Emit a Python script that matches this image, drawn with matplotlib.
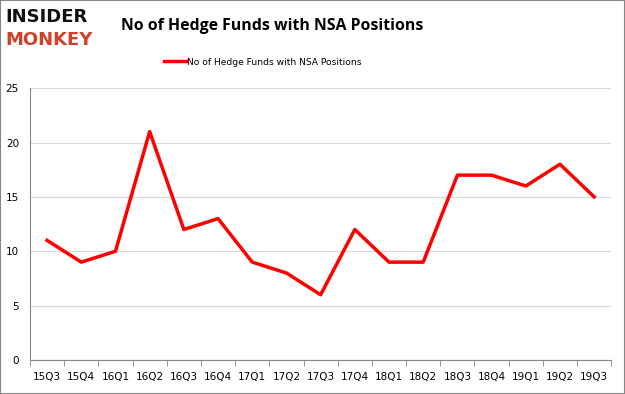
import matplotlib
matplotlib.use("Agg")
import numpy as np
from matplotlib import pyplot as plt

quarters = ['15Q3', '15Q4', '16Q1', '16Q2', '16Q3', '16Q4', '17Q1', '17Q2', '17Q3',
            '17Q4', '18Q1', '18Q2', '18Q3', '18Q4', '19Q1', '19Q2', '19Q3']
funds = [11, 9, 10, 21, 12, 13, 9, 8, 6, 12, 9, 9, 17, 17, 16, 18, 15]
series_name = 'No of Hedge Funds with NSA Positions'

fig = plt.figure(figsize=(6.25, 3.94), dpi=100)
ax = fig.add_axes([0.048, 0.0863, 0.930, 0.690])

x = np.arange(len(quarters))
ax.plot(x, funds, color='#ff0000', linewidth=2.5, label=series_name)

ax.set_xlim(-0.5, len(quarters) - 0.5)
ax.set_ylim(0, 25)
ax.set_yticks([0, 5, 10, 15, 20, 25])
ax.set_xticks(x)
ax.set_xticklabels(quarters, fontsize=7.5)
ax.set_xticks(np.arange(-0.5, len(quarters)), minor=True)
ax.tick_params(axis='x', which='major', length=0, pad=9)
ax.tick_params(axis='x', which='minor', length=4, color='#868686')
ax.tick_params(axis='y', length=0, labelsize=7.5, pad=8)
ax.grid(axis='y', color='#d9d9d9', linewidth=0.8)
ax.set_axisbelow(True)
for s in ['top', 'right']:
    ax.spines[s].set_visible(False)
ax.spines['left'].set_color('#868686')
ax.spines['bottom'].set_color('#868686')

ax.legend(loc='center', bbox_to_anchor=(0.40, 1.096), frameon=False, fontsize=6.6,
          handlelength=2.4, handletextpad=0.1)

fig.text(0.193, 0.935, 'No of Hedge Funds with NSA Positions', fontsize=11.4,
         fontweight='bold', va='center', family='Open Sans')
fig.text(0.008, 0.957, 'INSIDER', fontsize=13, fontweight='bold', va='center', color='#111111')
fig.text(0.008, 0.898, 'MONKEY', fontsize=13, fontweight='bold', va='center', color='#d0402a')

fig.patches.append(plt.Rectangle((0, 0), 1, 1, transform=fig.transFigure, fill=False,
                                 edgecolor='#868686', linewidth=1.5))

plt.savefig('out.png', dpi=100)
